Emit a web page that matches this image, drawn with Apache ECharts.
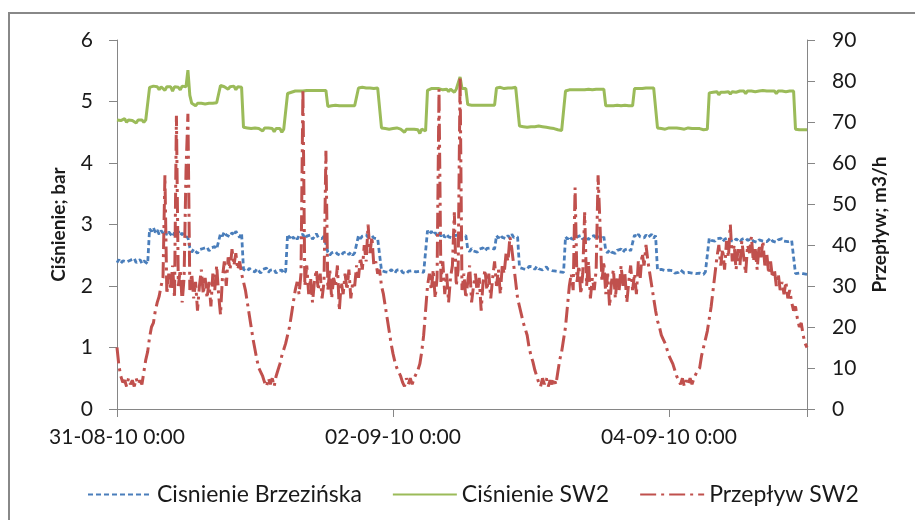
<!DOCTYPE html>
<html>
<head>
<meta charset="utf-8">
<script src="https://cdn.jsdelivr.net/npm/echarts@6/dist/echarts.min.js"></script>
<style>
  html, body { margin: 0; padding: 0; background: #fff; }
  #chart { width: 915px; height: 520px; }
</style>
</head>
<body>
<div id="chart"></div>
<script>
// Time axis labels (every 48 h from 31-08-10 0:00)
const tickLabels = ['31-08-10 0:00', '02-09-10 0:00', '04-09-10 0:00'];
const seriesNames = ['Cisnienie Brzezińska', 'Ciśnienie SW2', 'Przepływ SW2'];

// Samples every 20 minutes, 31-08-10 0:00 .. 05-09-10 0:00 (one row = 4 hours)
const brzezinska = [
  2.38,2.43,2.37,2.41,2.44,2.39,2.36,2.42,2.40,2.45,2.38,2.41,
  2.43,2.37,2.41,2.44,2.36,2.93,2.89,2.95,2.87,2.91,2.84,2.90,
  2.86,2.91,2.83,2.88,2.85,2.80,2.87,2.83,2.89,2.82,2.86,2.81,
  2.84,2.79,2.62,2.55,2.60,2.57,2.53,2.59,2.56,2.61,2.58,2.63,
  2.57,2.62,2.59,2.64,2.60,2.62,2.85,2.81,2.88,2.83,2.86,2.80,
  2.87,2.82,2.89,2.84,2.79,2.86,2.27,2.30,2.24,2.29,2.25,2.28,
  2.23,2.28,2.25,2.21,2.27,2.24,2.29,2.22,2.26,2.23,2.27,2.21,
  2.25,2.22,2.26,2.20,2.24,2.84,2.78,2.83,2.77,2.81,2.76,2.82,
  2.79,2.84,2.77,2.81,2.78,2.83,2.76,2.80,2.85,2.79,2.82,2.77,
  2.81,2.78,2.55,2.50,2.54,2.51,2.56,2.52,2.55,2.49,2.54,2.52,
  2.56,2.51,2.55,2.50,2.54,2.53,2.82,2.77,2.81,2.78,2.83,2.79,
  2.76,2.82,2.78,2.81,2.77,2.80,2.25,2.28,2.23,2.26,2.22,2.27,
  2.24,2.21,2.26,2.23,2.27,2.22,2.25,2.20,2.24,2.21,2.25,2.22,
  2.23,2.20,2.24,2.21,2.22,2.19,2.90,2.85,2.89,2.83,2.87,2.82,
  2.86,2.81,2.85,2.79,2.84,2.80,2.83,2.78,2.82,2.79,2.83,2.77,
  2.81,2.78,2.82,2.60,2.56,2.61,2.57,2.59,2.55,2.60,2.58,2.62,
  2.57,2.61,2.58,2.62,2.59,2.60,2.82,2.78,2.83,2.79,2.81,2.77,
  2.82,2.78,2.84,2.79,2.81,2.80,2.30,2.33,2.28,2.31,2.27,2.32,
  2.29,2.31,2.27,2.32,2.28,2.30,2.26,2.29,2.31,2.27,2.28,2.25,
  2.28,2.24,2.27,2.23,2.26,2.22,2.80,2.76,2.81,2.77,2.79,2.75,
  2.80,2.77,2.82,2.76,2.79,2.81,2.75,2.80,2.78,2.82,2.77,2.79,
  2.81,2.76,2.80,2.58,2.54,2.59,2.55,2.57,2.53,2.58,2.56,2.60,
  2.55,2.59,2.56,2.61,2.57,2.58,2.83,2.79,2.84,2.80,2.82,2.78,
  2.83,2.79,2.81,2.84,2.78,2.82,2.26,2.23,2.27,2.24,2.25,2.22,
  2.26,2.23,2.25,2.21,2.24,2.22,2.26,2.23,2.21,2.24,2.22,2.25,
  2.21,2.24,2.20,2.23,2.21,2.22,2.19,2.23,2.21,2.78,2.74,2.77,
  2.73,2.77,2.74,2.78,2.72,2.76,2.73,2.79,2.74,2.76,2.72,2.77,
  2.75,2.71,2.76,2.73,2.78,2.74,2.72,2.77,2.73,2.76,2.71,2.75,
  2.77,2.73,2.76,2.72,2.75,2.78,2.73,2.76,2.71,2.75,2.74,2.77,
  2.73,2.76,2.72,2.75,2.74,2.76,2.20,2.17,2.21,2.18,2.20,2.17,
  2.19
];

const sw2Pressure = [
  4.70,4.71,4.69,4.70,4.72,4.66,4.70,4.71,4.69,4.70,4.65,4.70,
  4.71,4.70,4.66,4.70,4.69,5.23,5.24,5.25,5.24,5.24,5.19,5.24,
  5.24,5.18,5.24,5.25,5.24,5.17,5.24,5.24,5.23,5.19,5.25,5.24,
  5.24,5.51,5.10,4.97,4.96,4.93,4.97,4.98,4.97,4.97,4.96,4.98,
  4.97,4.98,4.97,4.97,4.98,4.97,5.26,5.25,5.24,5.24,5.20,5.24,
  5.24,5.25,5.19,5.24,5.24,5.23,4.58,4.58,4.57,4.58,4.56,4.57,
  4.57,4.58,4.56,4.57,4.52,4.57,4.56,4.57,4.55,4.56,4.51,4.56,
  4.55,4.56,4.50,4.55,4.54,5.13,5.14,5.15,5.16,5.17,5.17,5.17,
  5.18,5.17,5.18,5.18,5.17,5.18,5.18,5.18,5.19,5.18,5.20,5.18,
  5.19,5.18,4.92,4.92,4.93,4.93,4.94,4.93,4.93,4.94,4.93,4.94,
  4.93,4.94,4.93,4.94,4.93,4.94,5.22,5.22,5.23,5.22,5.22,5.23,
  5.22,5.23,5.21,5.22,5.22,5.22,4.57,4.57,4.56,4.56,4.55,4.57,
  4.56,4.55,4.57,4.56,4.55,4.56,4.50,4.55,4.56,4.55,4.54,4.55,
  4.55,4.54,4.48,4.55,4.53,4.52,5.18,5.20,5.21,5.20,5.21,5.20,
  5.21,5.20,5.19,5.21,5.20,5.16,5.20,5.21,5.15,5.20,5.21,5.40,
  5.21,5.20,5.21,4.95,4.93,4.94,4.92,4.94,4.93,4.94,4.93,4.94,
  4.93,4.94,4.93,4.94,4.93,4.94,5.22,5.22,5.23,5.22,5.21,5.22,
  5.22,5.23,5.22,5.22,5.23,5.22,4.60,4.60,4.59,4.60,4.58,4.60,
  4.59,4.60,4.59,4.59,4.60,4.58,4.59,4.60,4.58,4.58,4.57,4.55,
  4.56,4.55,4.54,4.55,4.53,4.56,5.17,5.18,5.19,5.18,5.19,5.19,
  5.19,5.18,5.19,5.20,5.19,5.18,5.20,5.19,5.19,5.18,5.20,5.17,
  5.20,5.19,5.20,4.93,4.93,4.93,4.94,4.93,4.93,4.94,4.93,4.93,
  4.93,4.94,4.93,4.93,4.94,4.93,5.21,5.22,5.21,5.22,5.21,5.22,
  5.22,5.21,5.22,5.21,5.22,5.22,4.57,4.57,4.56,4.57,4.55,4.57,
  4.57,4.56,4.57,4.56,4.57,4.57,4.56,4.57,4.55,4.56,4.57,4.56,
  4.56,4.57,4.56,4.55,4.56,4.56,4.54,4.56,4.55,5.14,5.15,5.15,
  5.15,5.16,5.11,5.15,5.16,5.15,5.16,5.16,5.12,5.16,5.16,5.15,
  5.16,5.17,5.16,5.17,5.13,5.17,5.16,5.17,5.17,5.16,5.18,5.17,
  5.17,5.18,5.17,5.17,5.14,5.17,5.18,5.17,5.13,5.17,5.18,5.17,
  5.17,5.16,5.18,5.17,5.17,5.17,4.55,4.55,4.54,4.55,4.54,4.54,
  4.54
];

const sw2Flow = [
  15,10.5,8,6.5,7,5.5,7.5,6,7,5.5,7.5,6,
  7,6,9,12,14,17.5,20,21,24,26,27.5,30,
  32,57,28,33,29,35,27,71.5,30,34,26,32,
  58,72,29,33,27,31,24,30,34,28,32,27,
  31,25,33,29,35,28,23,32,36,30,37,34,
  39,35,38,34,36,33,33,29,26,23,20,17,
  14.5,12,10,9,8,6.5,5.5,7.5,6,7.5,5.5,8,
  9.5,11,13,14.5,16,18,20,23,26,29,31,28,
  33,78,30,35,28,32,26,31,34,29,33,27,
  31,63,29,34,27,32,30,35,24,31,28,33,
  29,34,27,31,30,35,32,37,34,40,36,45,
  38,42,35,36,33,34,30,28,25,22,19,16,
  13.5,11.5,10,9,8,6.5,5.5,7.5,6,7.5,6,7.5,
  8.5,9.5,11,14,18,24,30,33,29,34,27,32,
  78,31,36,28,33,26,32,35,48,30,34,81,
  29,33,27,31,35,26,30,33,28,32,24,31,
  34,29,33,27,32,36,30,34,28,35,33,38,
  36,42,39,35,31,27,25,23,21,19.5,18,15,
  13,11.5,9.5,8,6.5,5.5,7.5,6,7.5,5.5,7,6,
  7.5,6,9,12,14,17,20,25,30,33,29,54,
  31,35,28,33,48,30,36,27,32,29,34,57,
  45,31,36,28,33,25,31,34,27,32,29,35,
  30,33,26,31,35,29,33,28,36,32,38,35,
  40,36,33,30,27,24,21.5,20,18,17,16,14.5,
  13,12,11,9.5,8,7,6,7.5,5.5,7,6,7.5,
  6,7.5,8.5,9.5,10,13,15,17,19,22,25,29,
  33,37,40,35,39,34,41,37,45,36,40,34,
  39,35,41,37,33,40,38,42,36,39,34,40,
  37,41,35,38,33,36,32,34,30,33,29,31,
  28,31,27,29,26,24,25,22,20,21,18,16,
  15
];

const HOURS_PER_SAMPLE = 1 / 3;
const withTime = arr => arr.map((v, i) => [i * HOURS_PER_SAMPLE, v]);

const FONT = 'Lato';
const TEXT = '#1a1a1a';
const AXIS = '#868686';

const chart = echarts.init(document.getElementById('chart'), null, { renderer: 'canvas' });

const axisCommon = {
  axisLine: { show: true, lineStyle: { color: AXIS, width: 1 } },
  axisTick: { show: true, inside: false, length: 8, lineStyle: { color: AXIS, width: 1 } },
  splitLine: { show: false },
  axisLabel: { color: TEXT, fontFamily: FONT, fontSize: 21 }
};

const titleStyle = { color: TEXT, fontFamily: FONT, fontSize: 19, fontWeight: 'bold' };

chart.setOption({
  animation: false,
  backgroundColor: '#fff',
  graphic: [{
    type: 'rect',
    shape: { x: 9, y: 13, width: 920, height: 530 },
    style: { fill: 'none', stroke: '#888', lineWidth: 2 },
    silent: true, z: -10
  }],
  grid: { left: 117, right: 108, top: 40, bottom: 111, containLabel: false },
  legend: {
    left: 82, top: 478,
    itemWidth: 64, itemHeight: 14, itemGap: 30,
    itemStyle: { opacity: 0 },
    textStyle: { color: TEXT, fontFamily: FONT, fontSize: 23 },
    data: seriesNames
  },
  xAxis: Object.assign({}, axisCommon, {
    type: 'value', min: 0, max: 120, interval: 48,
    axisLabel: Object.assign({}, axisCommon.axisLabel, {
      margin: 18,
      formatter: v => (v % 48 === 0 ? tickLabels[v / 48] : '')
    })
  }),
  yAxis: [
    Object.assign({}, axisCommon, {
      type: 'value', min: 0, max: 6, interval: 1, position: 'left',
      name: 'Ciśnienie; bar', nameLocation: 'middle', nameGap: 49, nameRotate: 90,
      nameMoveOverlap: false,
      nameTextStyle: titleStyle,
      axisLabel: Object.assign({}, axisCommon.axisLabel, { margin: 24 })
    }),
    Object.assign({}, axisCommon, {
      type: 'value', min: 0, max: 90, interval: 10, position: 'right',
      name: 'Przepływ; m3/h', nameLocation: 'middle', nameGap: 63, nameRotate: 90,
      nameMoveOverlap: false,
      nameTextStyle: titleStyle,
      axisLabel: Object.assign({}, axisCommon.axisLabel, { margin: 25 })
    })
  ],
  series: [
    {
      name: seriesNames[0], type: 'line', yAxisIndex: 0, data: withTime(brzezinska),
      symbol: 'none', lineStyle: { color: '#4a7ebb', width: 2.8, type: [5, 3] },
      itemStyle: { color: '#4a7ebb' }
    },
    {
      name: seriesNames[1], type: 'line', yAxisIndex: 0, data: withTime(sw2Pressure),
      symbol: 'none', lineStyle: { color: '#9bbb59', width: 3, type: 'solid' },
      itemStyle: { color: '#9bbb59' }
    },
    {
      name: seriesNames[2], type: 'line', yAxisIndex: 1, data: withTime(sw2Flow),
      symbol: 'none', lineStyle: { color: '#c0504d', width: 3, type: [16, 5, 3, 5] },
      itemStyle: { color: '#c0504d' }
    }
  ]
});
</script>
</body>
</html>
